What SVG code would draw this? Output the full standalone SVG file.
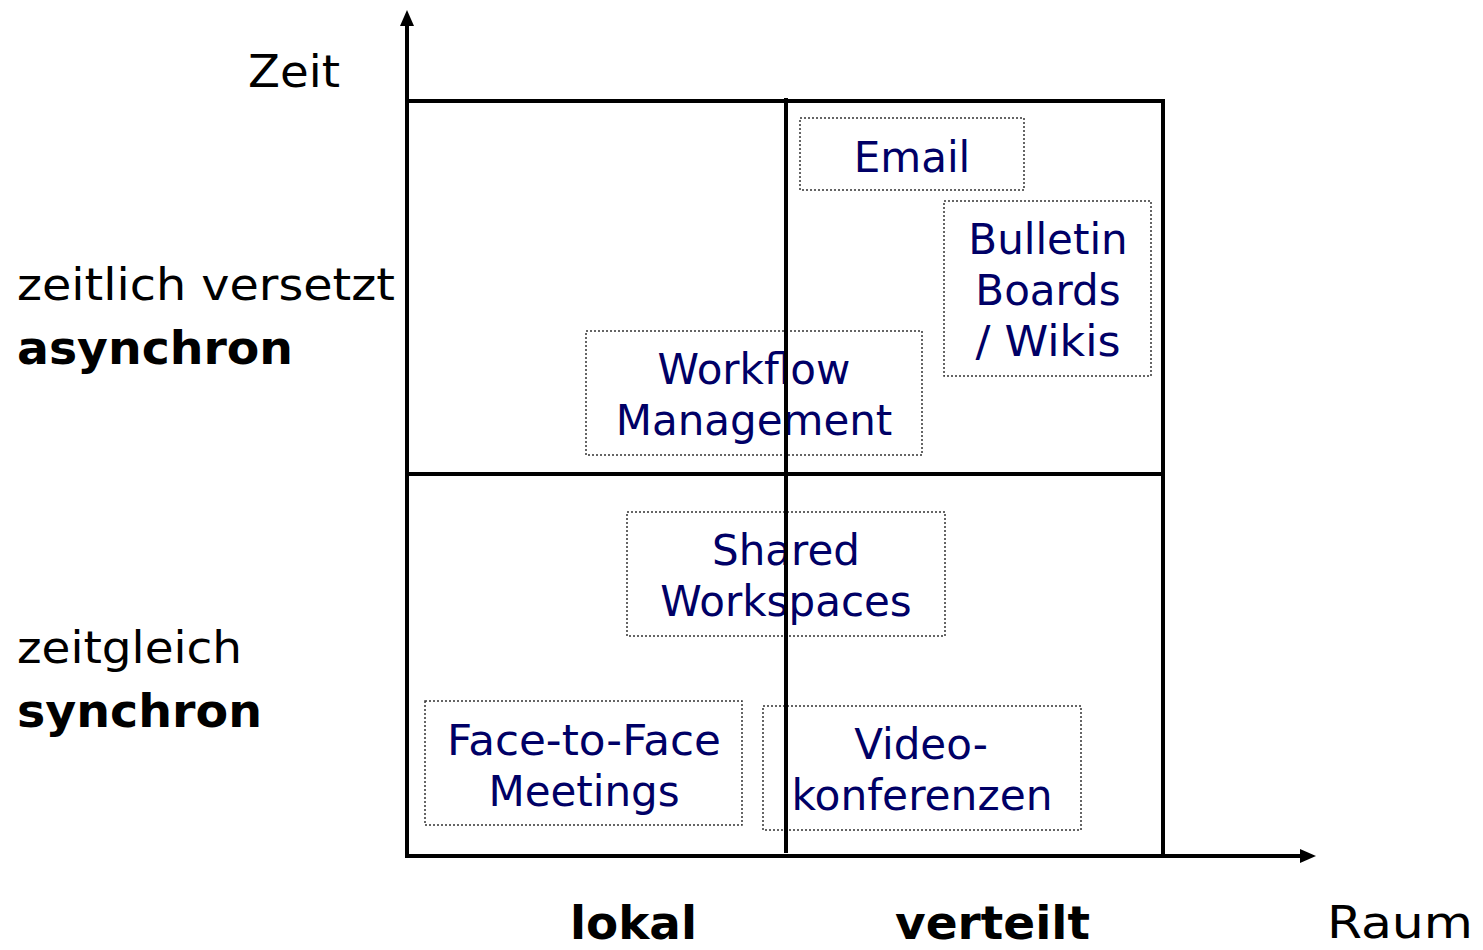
<svg xmlns="http://www.w3.org/2000/svg" width="1483" height="950" viewBox="0 0 1483 950">
<style>
.lbl{font-family:"DejaVu Sans",Verdana,sans-serif;font-size:45px;fill:#000}
.b{font-weight:bold;font-size:46px}
.nt{font-family:"DejaVu Sans",Verdana,sans-serif;font-size:42px;fill:#000066;text-anchor:middle}
.box{fill:none;stroke:#333;stroke-width:1.5;stroke-dasharray:2 2}
.ln{stroke:#000;stroke-width:4;fill:none}
</style>
<defs>
<marker id="arr" viewBox="0 0 16 14" refX="0" refY="7" markerWidth="16" markerHeight="14" orient="auto" markerUnits="userSpaceOnUse">
<path d="M0,0 L16,7 L0,14 z" fill="#000"/>
</marker>
</defs>
<rect width="1483" height="950" fill="#fff"/>
<g id="labels">
<text class="lbl" x="248" y="87" textLength="92" lengthAdjust="spacingAndGlyphs">Zeit</text>
<text class="lbl" x="17" y="300" textLength="378" lengthAdjust="spacingAndGlyphs">zeitlich versetzt</text>
<text class="lbl b" x="17" y="364" textLength="276" lengthAdjust="spacingAndGlyphs">asynchron</text>
<text class="lbl" x="17" y="663" textLength="225" lengthAdjust="spacingAndGlyphs">zeitgleich</text>
<text class="lbl b" x="17" y="727" textLength="245" lengthAdjust="spacingAndGlyphs">synchron</text>
<text class="lbl b" x="570" y="939" textLength="127" lengthAdjust="spacingAndGlyphs">lokal</text>
<text class="lbl b" x="895" y="939" textLength="195" lengthAdjust="spacingAndGlyphs">verteilt</text>
<text class="lbl" x="1327" y="938" textLength="146" lengthAdjust="spacingAndGlyphs">Raum</text>
</g>
<g id="email"><rect class="box" x="800" y="118" width="224" height="72"/><text class="nt" x="912" y="172">Email</text></g>
<g id="bulletin"><rect class="box" x="944" y="201" width="207" height="175"/><text class="nt" x="1048" y="254">Bulletin</text><text class="nt" x="1048" y="305">Boards</text><text class="nt" x="1048" y="356" textLength="145" lengthAdjust="spacingAndGlyphs">/ Wikis</text></g>
<g id="workflow"><rect class="box" x="586" y="331" width="336" height="124"/><text class="nt" x="754" y="384">Workflow</text><text class="nt" x="754" y="435">Management</text></g>
<g id="shared"><rect class="box" x="627" y="512" width="318" height="124"/><text class="nt" x="786" y="565">Shared</text><text class="nt" x="786" y="616">Workspaces</text></g>
<g id="face"><rect class="box" x="425" y="701" width="317" height="124"/><text class="nt" x="584" y="755" textLength="274" lengthAdjust="spacingAndGlyphs">Face-to-Face</text><text class="nt" x="584" y="806">Meetings</text></g>
<g id="video"><rect class="box" x="763" y="706" width="318" height="124"/><text class="nt" x="921" y="759">Video-</text><text class="nt" x="922" y="810" textLength="261" lengthAdjust="spacingAndGlyphs">konferenzen</text></g>
<g id="connectors">
<rect class="ln" x="407" y="101" width="756" height="755"/>
<line class="ln" x1="407" y1="474" x2="1163" y2="474"/>
<line class="ln" x1="786" y1="98" x2="786" y2="853"/>
<line class="ln" x1="407" y1="856" x2="407" y2="26" marker-end="url(#arr)"/>
<line class="ln" x1="407" y1="856" x2="1300" y2="856" marker-end="url(#arr)"/>
</g>
</svg>
